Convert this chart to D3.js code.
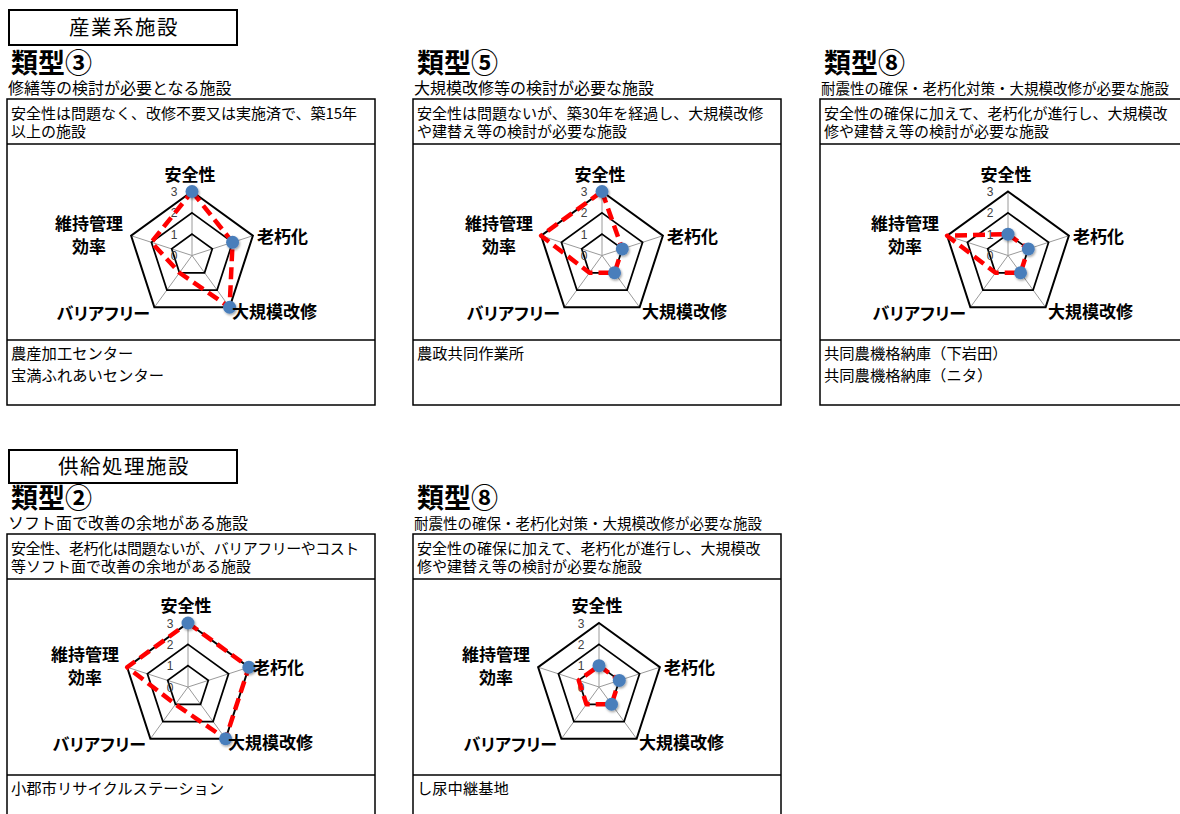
<!DOCTYPE html>
<html>
<head>
<meta charset="utf-8">
<script src="https://cdn.jsdelivr.net/npm/d3@7"></script>
<style>
  body { margin: 0; background: #fff; }
  text { font-family: "Noto Sans CJK JP", "Noto Sans", sans-serif; fill: #000; }
</style>
</head>
<body>
<svg id="chart" width="1180" height="814"></svg>
<script>
// ---- data ----
const axes = ['安全性', '老朽化', '大規模改修', 'バリアフリー', '維持管理効率'];
const axisTicks = [0, 1, 2, 3];
const groupNames = ['産業系施設', '供給処理施設'];
const typeTitles = ['類型③', '類型⑤', '類型⑧', '類型②', '類型⑧'];
const typeSubtitles = [
  '修繕等の検討が必要となる施設',
  '大規模改修等の検討が必要な施設',
  '耐震性の確保・老朽化対策・大規模改修が必要な施設',
  'ソフト面で改善の余地がある施設',
  '耐震性の確保・老朽化対策・大規模改修が必要な施設',
];
const typeDescriptions = [
  ['安全性は問題なく、改修不要又は実施済で、築15年', '以上の施設'],
  ['安全性は問題ないが、築30年を経過し、大規模改修', 'や建替え等の検討が必要な施設'],
  ['安全性の確保に加えて、老朽化が進行し、大規模改', '修や建替え等の検討が必要な施設'],
  ['安全性、老朽化は問題ないが、バリアフリーやコスト', '等ソフト面で改善の余地がある施設'],
  ['安全性の確保に加えて、老朽化が進行し、大規模改', '修や建替え等の検討が必要な施設'],
];
const facilityLists = [
  ['農産加工センター', '宝満ふれあいセンター'],
  ['農政共同作業所'],
  ['共同農機格納庫（下岩田）', '共同農機格納庫（ニタ）'],
  ['小郡市リサイクルステーション'],
  ['し尿中継基地'],
];
// one row per panel, in the order of `axes`
const scoreValues = [
  [3, 2, 3, 1, 2],
  [3, 1, 1, 1, 3],
  [1, 1, 1, 1, 3],
  [3, 3, 3, 1, 3],
  [1, 1, 1, 1, 1],
];
// blue markers only sit on these axes
const markedAxes = ['安全性', '老朽化', '大規模改修'];

// ---- layout ----
const rows = [
  { header: 10, headerH: 35, top: 99, cy: 255.5 },
  { header: 450, headerH: 33, top: 534, cy: 687 },
];
// long subtitles were shrunk to fit in the original sheet
const panels = [
  { row: 0, x: 7, cx: 192, subSize: 16 },
  { row: 0, x: 413, cx: 602, subSize: 16 },
  { row: 0, x: 820, cx: 1008, subSize: 14.5 },
  { row: 1, x: 7, cx: 188, subSize: 16 },
  { row: 1, x: 413, cx: 599, subSize: 14.5 },
];
const panelW = 368;
const descH = 45;
const chartH = 196;
const listH = 65;
const R = 64;

// where each axis name sits, relative to the radar centre
const labelPos = {
  '安全性': { dx: -2, dy: [-75], anchor: 'middle', lines: ['安全性'] },
  '老朽化': { dx: 65, dy: [-13], anchor: 'start', lines: ['老朽化'] },
  '大規模改修': { dx: 40, dy: [62], anchor: 'start', lines: ['大規模改修'] },
  'バリアフリー': { dx: -42, dy: [64], anchor: 'end', lines: ['バリアフリー'] },
  '維持管理効率': { dx: -103, dy: [-26, -3], anchor: 'middle', lines: ['維持管理', '効率'] },
};

const svg = d3.select('#chart');

const defs = svg.append('defs');
const shadow = defs.append('filter').attr('id', 'dotShadow')
  .attr('x', '-50%').attr('y', '-50%').attr('width', '200%').attr('height', '200%');
shadow.append('feDropShadow')
  .attr('dx', 1).attr('dy', 1.5).attr('stdDeviation', 1)
  .attr('flood-color', '#000').attr('flood-opacity', 0.35);

const rScale = d3.scaleLinear().domain([0, 3]).range([0, R]);
const angle = d3.scaleOrdinal()
  .domain(axes)
  .range(axes.map((d, i) => (i * 2 * Math.PI) / axes.length));

function pointAt(axis, v) {
  const a = angle(axis);
  return [rScale(v) * Math.sin(a), -rScale(v) * Math.cos(a)];
}

const radial = d3.lineRadial()
  .angle((d) => angle(d.axis))
  .radius((d) => rScale(d.value))
  .curve(d3.curveLinearClosed);

// group headers
rows.forEach((row, ri) => {
  svg.append('rect')
    .attr('x', 9).attr('y', row.header)
    .attr('width', 228).attr('height', row.headerH)
    .attr('fill', '#fff').attr('stroke', '#000').attr('stroke-width', 2);
  svg.append('text')
    .attr('x', 124).attr('y', row.header + row.headerH / 2 + 7.5)
    .attr('text-anchor', 'middle')
    .style('font-size', '20.5px')
    .style('letter-spacing', '1.5px')
    .text(groupNames[ri]);
});

panels.forEach((p, i) => {
  const row = rows[p.row];
  const top = row.top;

  // title + subtitle
  svg.append('text')
    .attr('x', p.x + 4).attr('y', top - 26)
    .style('font-size', '27px').style('font-weight', 'bold')
    .text(typeTitles[i]);
  svg.append('text')
    .attr('x', p.x + 1).attr('y', top - 5)
    .style('font-size', `${p.subSize}px`)
    .text(typeSubtitles[i]);

  // boxes
  const g = svg.append('g');
  g.append('rect')
    .attr('x', p.x).attr('y', top)
    .attr('width', panelW).attr('height', descH + chartH + listH)
    .attr('fill', 'none').attr('stroke', '#000').attr('stroke-width', 1.5);
  [descH, descH + chartH].forEach((off) => {
    g.append('line')
      .attr('x1', p.x).attr('x2', p.x + panelW)
      .attr('y1', top + off).attr('y2', top + off)
      .attr('stroke', '#000').attr('stroke-width', 1.5);
  });

  typeDescriptions[i].forEach((t, li) => {
    g.append('text')
      .attr('x', p.x + 4).attr('y', top + 20 + li * 18)
      .style('font-size', '15px')
      .style('letter-spacing', i === 3 && li === 0 ? '-0.5px' : null)
      .text(t);
  });
  facilityLists[i].forEach((t, li) => {
    g.append('text')
      .attr('x', p.x + 4).attr('y', top + descH + chartH + 19 + li * 21.5)
      .style('font-size', '15.3px')
      .text(t);
  });

  // radar
  const rg = svg.append('g').attr('transform', `translate(${p.cx},${row.cy})`);

  rg.selectAll('line.spoke')
    .data(axes)
    .join('line')
    .attr('class', 'spoke')
    .attr('x1', 0).attr('y1', 0)
    .attr('x2', (d) => pointAt(d, 3)[0])
    .attr('y2', (d) => pointAt(d, 3)[1])
    .attr('stroke', '#9a9a9a').attr('stroke-width', 1);

  rg.selectAll('path.ring')
    .data(axisTicks.filter((t) => t > 0))
    .join('path')
    .attr('class', 'ring')
    .attr('d', (t) => radial(axes.map((a) => ({ axis: a, value: t }))))
    .attr('fill', 'none').attr('stroke', '#000')
    .attr('stroke-width', (t) => (t === 3 ? 2 : 1.75));

  rg.selectAll('text.tick')
    .data(axisTicks)
    .join('text')
    .attr('class', 'tick')
    .attr('x', -18)
    .attr('y', (t) => -rScale(t) + 4.5)
    .attr('text-anchor', 'middle')
    .style('font-family', '"Liberation Sans", Arial, sans-serif')
    .style('font-size', '12px')
    .style('fill', '#404040')
    .text((t) => t);

  const series = axes.map((a, k) => ({ axis: a, value: scoreValues[i][k] }));

  rg.append('path')
    .attr('d', radial(series))
    .attr('fill', 'none')
    .attr('stroke', '#ff0000').attr('stroke-width', 4.5)
    .attr('stroke-dasharray', '12 6')
    .attr('stroke-linejoin', 'round');

  rg.selectAll('circle.dot')
    .data(series.filter((d) => markedAxes.includes(d.axis)))
    .join('circle')
    .attr('class', 'dot')
    .attr('cx', (d) => pointAt(d.axis, d.value)[0])
    .attr('cy', (d) => pointAt(d.axis, d.value)[1])
    .attr('r', 6.5)
    .attr('fill', '#4a7ebb')
    .attr('filter', 'url(#dotShadow)');

  axes.forEach((a) => {
    const lp = labelPos[a];
    lp.lines.forEach((ln, li) => {
      rg.append('text')
        .attr('x', lp.dx).attr('y', lp.dy[li])
        .attr('text-anchor', lp.anchor)
        .style('font-size', '17px').style('font-weight', 'bold')
        .style('font-feature-settings', '"palt"')
        .text(ln);
    });
  });
});
</script>
</body>
</html>
